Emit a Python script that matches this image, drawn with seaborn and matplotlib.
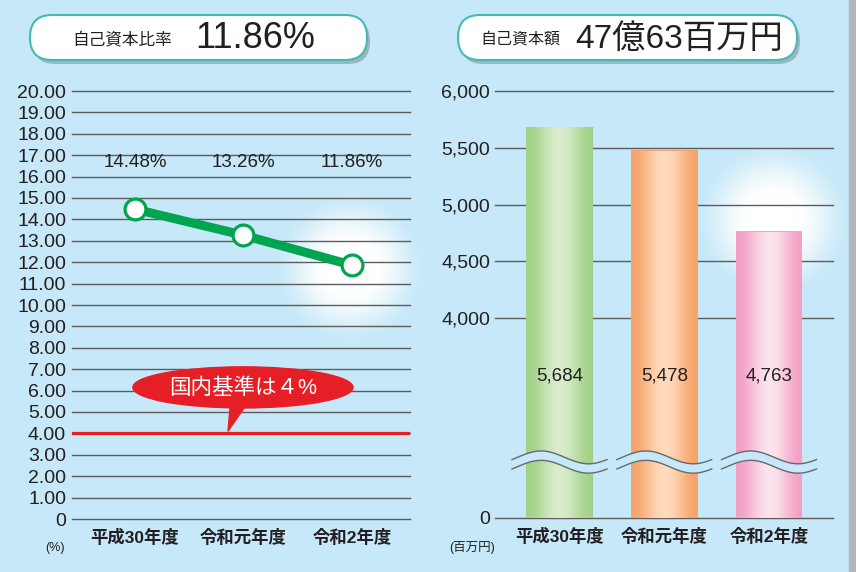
import numpy as np
import pandas as pd
import matplotlib
matplotlib.use("Agg")
import matplotlib.pyplot as plt
import seaborn as sns
from matplotlib.patches import FancyBboxPatch, Ellipse, Polygon, Rectangle
from matplotlib.scale import FuncScale
from matplotlib.transforms import blended_transform_factory

# ---------------- data ----------------
years = ["平成30年度", "令和元年度", "令和2年度"]
ratio = [14.48, 13.26, 11.86]            # 自己資本比率 (%)
capital = [5684, 5478, 4763]             # 自己資本額 (百万円)
ratio_ticks = list(range(0, 21))
ratio_tick_labels = ["0"] + [f"{v:.2f}" for v in ratio_ticks[1:]]
cap_ticks = [0, 4000, 4500, 5000, 5500, 6000]
cap_tick_labels = ["0", "4,000", "4,500", "5,000", "5,500", "6,000"]
ratio_title = "11.86%"
capital_title = "47億63百万円"
threshold = 4.0
threshold_label = "国内基準は４%"

# ---------------- style ----------------
BG = "#c6e8f8"
GREEN = "#00a550"
RED = "#e61f26"
GRID = "#5c5c5c"
TXT = "#231f20"
bar_edges = ["#a3d187", "#f7a46b", "#f3a0c4"]
bar_centers = ["#d8edcc", "#fedbbd", "#fce3ee"]

plt.rcParams["font.family"] = ["Liberation Sans", "Noto Sans CJK JP"]

W, H = 856, 572
fig = plt.figure(figsize=(W / 100, H / 100), dpi=100, facecolor=BG)

# background / decoration axes in pixel coordinates
bg = fig.add_axes([0, 0, 1, 1], zorder=-10)
bg.set_xlim(0, W)
bg.set_ylim(H, 0)
bg.axis("off")


def glow(cx, cy, R):
    n = 256
    yy, xx = np.mgrid[-1:1:n * 1j, -1:1:n * 1j]
    r = np.sqrt(xx ** 2 + yy ** 2)
    t = np.clip((r - 0.28) / (1.0 - 0.28), 0, 1)
    a = 1 - (t * t * (3 - 2 * t))
    img = np.ones((n, n, 4))
    img[..., 3] = a
    bg.imshow(img, extent=(cx - R, cx + R, cy + R, cy - R), interpolation="bilinear", zorder=1)


glow(350, 268, 80)
glow(773, 220, 82)
bg.add_patch(Rectangle((849, 0), 7, H, color="#b3b6b8", zorder=2))


def title_box(x, y, w, h):
    bg.add_patch(FancyBboxPatch((x + 3, y + 4), w, h, boxstyle="round,pad=0,rounding_size=22",
                                fc="#7f8c92", ec="none", alpha=0.55, zorder=3))
    bg.add_patch(FancyBboxPatch((x, y), w, h, boxstyle="round,pad=0,rounding_size=22",
                                fc="white", ec="#45b9b6", lw=1.5, zorder=4))


title_box(30, 15, 337, 45)
title_box(458, 15, 339, 45)
bg.text(122, 39, "自己資本比率", fontsize=12, ha="center", va="center", color=TXT, zorder=5)
bg.text(195, 39, ratio_title, fontsize=26, ha="left", va="center", color=TXT, zorder=5)
bg.text(520, 39, "自己資本額", fontsize=11.5, ha="center", va="center", color=TXT, zorder=5)
bg.text(575, 39, capital_title, fontsize=24, ha="left", va="center", color=TXT, zorder=5)
bg.text(55, 548, "(%)", fontsize=9, ha="center", va="center", color=TXT)
bg.text(472, 547, "(百万円)", fontsize=9, ha="center", va="center", color=TXT)

# ---------------- left: ratio line chart ----------------
ax1 = fig.add_axes([72 / W, (H - 519) / H, 338 / W, 428 / H])
ax1.set_facecolor("none")
xpos = np.arange(len(years))
df1 = pd.DataFrame({"x": xpos, "ratio": ratio})
sns.lineplot(data=df1, x="x", y="ratio", ax=ax1, color=GREEN, lw=6.5, marker="o",
             markersize=15, markerfacecolor="white", markeredgecolor=GREEN,
             markeredgewidth=2.3, zorder=6)
ax1.axhline(threshold, color=RED, lw=2.3, zorder=3)
ax1.set_ylim(0, 20)
ax1.set_xlim(-0.581, 2.535)
ax1.set_yticks(ratio_ticks, labels=ratio_tick_labels)
ax1.set_xticks(xpos, labels=years)
ax1.grid(axis="y", color=GRID, lw=1.0)
ax1.grid(axis="x", visible=False)
ax1.set_axisbelow(True)
for s in ax1.spines.values():
    s.set_visible(False)
ax1.tick_params(axis="y", length=0, pad=4.3, labelsize=14, labelcolor=TXT)
ax1.tick_params(axis="x", length=0, pad=7, labelsize=12.5, labelcolor=TXT)
for lab in ax1.get_xticklabels():
    lab.set_fontweight("bold")
for gl in ax1.get_ygridlines():
    gl.set_clip_on(False)
ax1.set_xlabel("")
ax1.set_ylabel("")
for i, v in enumerate(ratio):
    ax1.text(i, 16.64, f"{v:.2f}%", ha="center", va="center", fontsize=13.5, color=TXT)

# callout bubble
ax1.add_patch(Ellipse((0.995, 6.15), 2.03, 1.92, color=RED, zorder=7))
ax1.add_patch(Polygon([(0.885, 5.7), (1.075, 5.7), (0.857, 4.1)], closed=True, color=RED, zorder=7))
ax1.text(0.995, 6.1, threshold_label, ha="center", va="center", fontsize=15.5,
         color="white", zorder=8)

# ---------------- right: capital bar chart (broken axis) ----------------
ax2 = fig.add_axes([495 / W, (H - 518) / H, 338 / W, 427 / H])
ax2.set_facecolor("none")


def fwd(y):
    y = np.asarray(y, dtype=float)
    return np.where(y < 4000, y * 200 / 4000, 200 + (y - 4000) * 227 / 2000)


def inv(u):
    u = np.asarray(u, dtype=float)
    return np.where(u < 200, u * 4000 / 200, 4000 + (u - 200) * 2000 / 227)


ax2.set_yscale(FuncScale(ax2.yaxis, (fwd, inv)))
df2 = pd.DataFrame({"year": years, "capital": capital})
sns.barplot(data=df2, x="year", y="capital", hue="year", palette=bar_edges, width=0.635,
            legend=False, ax=ax2, zorder=3, linewidth=0)

patches = list(ax2.patches)
for k, p in enumerate(patches):
    x0, w, hgt = p.get_x(), p.get_width(), p.get_height()
    c_edge = np.array(matplotlib.colors.to_rgb(bar_edges[k]))
    c_mid = np.array(matplotlib.colors.to_rgb(bar_centers[k]))
    t = np.linspace(0, 1, 256)
    wgt = 0.5 - 0.5 * np.cos(2 * np.pi * t)
    grad = c_edge[None, :] * (1 - wgt[:, None]) + c_mid[None, :] * wgt[:, None]
    img = grad[None, :, :]
    im = ax2.imshow(img, extent=(x0, x0 + w, 0, hgt), aspect="auto", interpolation="bilinear",
                    zorder=3.5)
    im.set_clip_path(p)

ax2.set_ylim(0, 6000)
ax2.set_xlim(-0.616, 2.611)
ax2.set_yticks(cap_ticks, labels=cap_tick_labels)
ax2.yaxis.set_minor_locator(matplotlib.ticker.NullLocator())
ax2.grid(axis="y", which="major", color=GRID, lw=1.0)
ax2.grid(axis="x", visible=False)
ax2.set_axisbelow(True)
for s in ax2.spines.values():
    s.set_visible(False)
ax2.tick_params(axis="both", which="both", length=0)
ax2.tick_params(axis="y", pad=3.6, labelsize=14, labelcolor=TXT)
ax2.tick_params(axis="x", pad=7, labelsize=12.5, labelcolor=TXT)
for lab in ax2.get_xticklabels():
    lab.set_fontweight("bold")
for gl in ax2.get_ygridlines():
    gl.set_clip_on(False)
ax2.set_xlabel("")
ax2.set_ylabel("")

trans = blended_transform_factory(ax2.transData, ax2.transAxes)
for i, v in enumerate(capital):
    ax2.text(i, 0.333, f"{v:,}", transform=trans, ha="center", va="center",
             fontsize=13.5, color=TXT, zorder=6)

# wave break marks
tt = np.linspace(0, 1, 120)
for i in range(len(capital)):
    xs = i - 0.453 + 0.906 * tt
    yc = 0.131 + 0.015 * np.sin(2 * np.pi * tt - 0.35)
    up = yc + 0.011
    lo = yc - 0.011
    ax2.fill_between(xs, lo, up, transform=trans, color=BG, lw=0, zorder=5)
    ax2.plot(xs, up, transform=trans, color="#666a6c", lw=1.0, zorder=5.5)
    ax2.plot(xs, lo, transform=trans, color="#666a6c", lw=1.0, zorder=5.5)

fig.savefig("out.png", dpi=100, facecolor=BG)
